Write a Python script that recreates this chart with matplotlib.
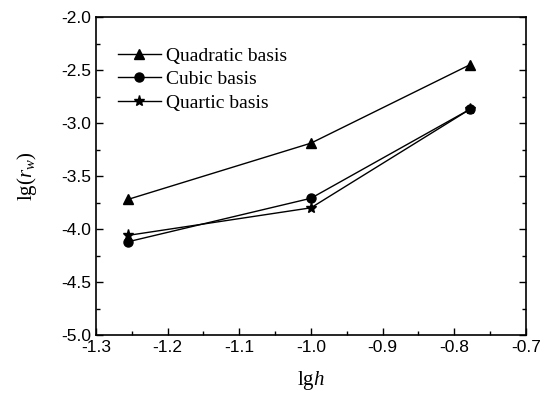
import matplotlib
matplotlib.use("Agg")
import matplotlib.pyplot as plt
from matplotlib.ticker import MultipleLocator, FormatStrFormatter

plt.rcParams["mathtext.fontset"] = "custom"
plt.rcParams["mathtext.rm"] = "Liberation Serif"
plt.rcParams["mathtext.it"] = "Liberation Serif:italic"

lgh = [-1.255, -1.0, -0.778]
quadratic = [-3.72, -3.19, -2.45]
cubic = [-4.12, -3.71, -2.87]
quartic = [-4.06, -3.80, -2.87]

fig = plt.figure(figsize=(5.47, 4.0), dpi=100)
ax = fig.add_axes([0.1755, 0.1625, 0.786, 0.795])

ax.plot(lgh, quadratic, color="black", lw=1, marker="^", ms=7, label="Quadratic basis")
ax.plot(lgh, cubic, color="black", lw=1, marker="o", ms=6.5, label="Cubic basis")
ax.plot(lgh, quartic, color="black", lw=1, marker="*", ms=8, label="Quartic basis")

ax.set_xlim(-1.3, -0.7)
ax.set_ylim(-5.0, -2.0)
ax.xaxis.set_major_locator(MultipleLocator(0.1))
ax.xaxis.set_minor_locator(MultipleLocator(0.05))
ax.yaxis.set_major_locator(MultipleLocator(0.5))
ax.yaxis.set_minor_locator(MultipleLocator(0.25))
ax.xaxis.set_major_formatter(FormatStrFormatter("%.1f"))
ax.yaxis.set_major_formatter(FormatStrFormatter("%.1f"))

ax.tick_params(which="both", direction="in", top=False, right=True,
               labelsize=12.5, width=1)
ax.tick_params(which="major", length=5)
ax.tick_params(which="minor", length=3)
for lab in ax.get_xticklabels() + ax.get_yticklabels():
    lab.set_family("Liberation Sans")
for s in ax.spines.values():
    s.set_linewidth(1.2)

ax.set_xlabel(r"lg$h$", family="Liberation Serif", fontsize=15, labelpad=10)
ax.set_ylabel(r"lg($r_w$)", family="Liberation Serif", fontsize=15, labelpad=16)

ax.legend(loc="upper left", frameon=False, prop={"family": "Liberation Serif", "size": 14},
          handlelength=2.2, handletextpad=0.3, labelspacing=0.3,
          bbox_to_anchor=(0.01, 0.96))

fig.savefig("out.png", dpi=100)
